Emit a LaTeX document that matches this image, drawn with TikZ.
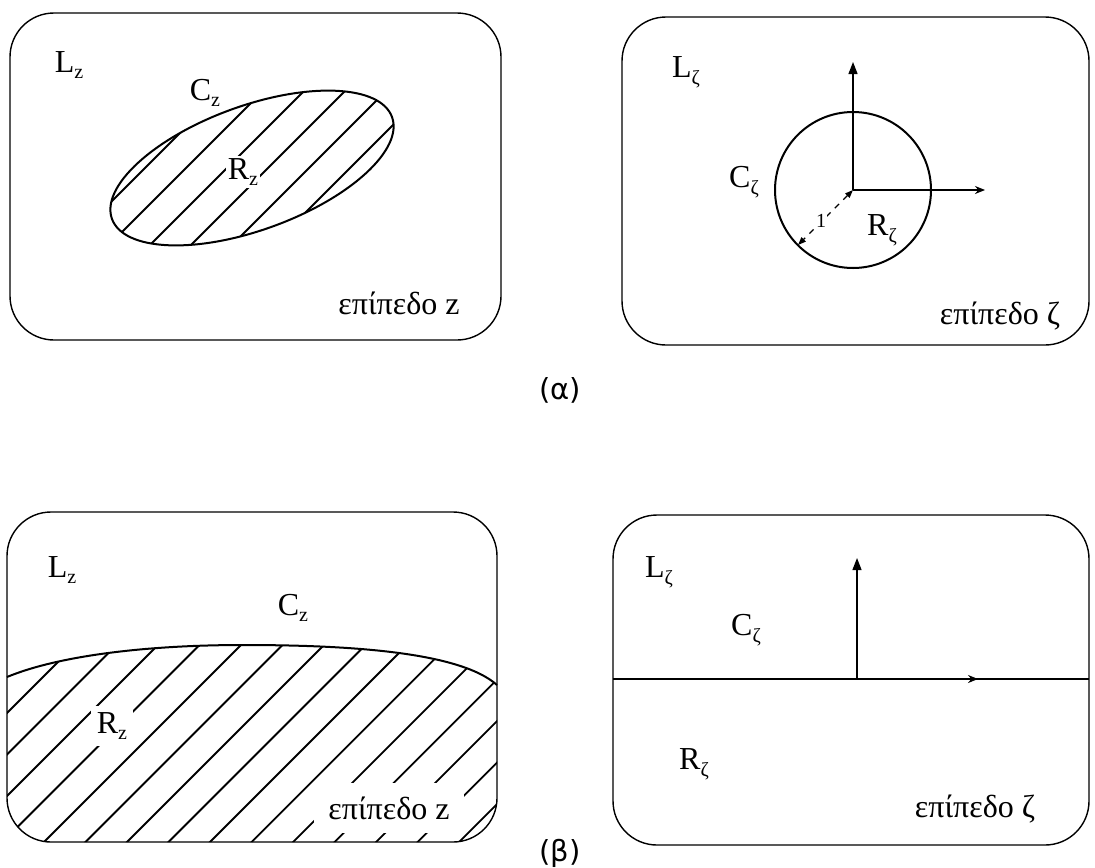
\documentclass[tikz,border=0pt]{standalone}
\usepackage{fontspec}
\setmainfont{Liberation Serif}
\newfontfamily\capfont{DejaVu Sans}
\usetikzlibrary{arrows.meta}
\newcommand{\lsub}[1]{\raisebox{-0.45ex}{\fontsize{10}{10}\selectfont #1}}
\begin{document}
\begin{tikzpicture}[
        x=0.5pt, y=-0.5pt,
        plane/.style={draw, line width=0.7pt, rounded corners=22pt},
        curve/.style={draw, line width=1pt},
        hatch/.style={line width=0.9pt},
        lbl/.style={font=\fontsize{16}{18}\selectfont, inner sep=1pt},
        blank/.style={lbl, fill=white},
        axis/.style={line width=0.6pt, -{Triangle[length=6pt,width=4.5pt]}},
        flowtip/.style={line width=0.9pt, -{Stealth[length=5pt,width=4pt]}},
        unitr/.style={dashed, line width=0.6pt, {Triangle[length=4pt,width=3pt]}-{Triangle[length=4pt,width=3pt]}},
        caption/.style={font=\capfont\fontsize{14.5}{16}\selectfont},
    ]
    \useasboundingbox (0,0) rectangle (1095,867);

    % (a) z plane
    \draw[plane] (10,13) rectangle (501,340);
    \begin{scope}
        \clip[rotate around={20:(252,168)}] (252,168) ellipse [x radius=149, y radius=62];
        \foreach \c in {313,354,...,520}
            \draw[hatch] (\c-300,300) -- (\c,0);
    \end{scope}
    \draw[curve, rotate around={20:(252,168)}] (252,168) ellipse [x radius=149, y radius=62];
    \node[lbl] (Lz1) at (69,65) {L\lsub{z}};
    \node[lbl] (Cz1) at (205,93) {C\lsub{z}};
    \node[blank] (Rz1) at (243,172) {R\lsub{z}};
    \node[lbl] (pz1) at (399,303) {επίπεδο z};

    % (a) zeta plane
    \draw[plane] (622,17) rectangle (1089,345);
    \coordinate (o1) at (853,190);
    \coordinate (up1) at (853,62);
    \coordinate (rt1) at (985,190);
    \coordinate (r1) at (798,245);
    \draw[curve] (o1) circle [radius=78];
    \draw[axis] (o1) -- (up1);
    \draw[flowtip] (o1) -- (rt1);
    \draw[unitr] (o1) -- (r1);
    \node[font=\fontsize{10}{11}\selectfont, fill=white, inner sep=0.5pt] (one) at (821,221) {1};
    \node[lbl] (Lt1) at (686,72) {L\lsub{ζ}};
    \node[lbl] (Ct1) at (744,182) {C\lsub{ζ}};
    \node[lbl] (Rt1) at (882,230) {R\lsub{ζ}};
    \node[lbl] (pt1) at (1000,316) {επίπεδο ζ};

    \node[caption] (capa) at (560,390) {(α)};

    % (b) z plane
    \draw[plane] (7,512) rectangle (497,842);
    \begin{scope}
        \clip[rounded corners=22pt] (7,512) rectangle (497,842);
        \clip (7,677) .. controls (60,655) and (150,645) .. (243,645)
            .. controls (350,645) and (460,652) .. (497,685) -- (497,850) -- (7,850) -- cycle;
        \foreach \c in {720,761.5,...,1330}
            \draw[hatch] (\c-850,850) -- (\c-630,630);
    \end{scope}
    \draw[curve] (7,677) .. controls (60,655) and (150,645) .. (243,645)
        .. controls (350,645) and (460,652) .. (497,685);
    \node[lbl] (Lz2) at (62,570) {L\lsub{z}};
    \node[lbl] (Cz2) at (293,608) {C\lsub{z}};
    \node[blank, inner sep=3pt] (Rz2) at (112,726) {R\lsub{z}};
    \node[blank, inner sep=7pt] (pz2) at (389,808) {επίπεδο z};

    % (b) zeta plane
    \draw[plane] (613,515) rectangle (1089,845);
    \coordinate (hl) at (613,679);
    \coordinate (hr) at (1089,679);
    \coordinate (o2) at (857,679);
    \coordinate (up2) at (857,558);
    \coordinate (rt2) at (978,679);
    \draw[curve] (hl) -- (hr);
    \draw[axis] (o2) -- (up2);
    \draw[flowtip] (o2) -- (rt2);
    \node[lbl] (Lt2) at (659,572) {L\lsub{ζ}};
    \node[lbl] (Ct2) at (746,630) {C\lsub{ζ}};
    \node[lbl] (Rt2) at (694,764) {R\lsub{ζ}};
    \node[lbl] (pt2) at (975,809) {επίπεδο ζ};

    \node[caption] (capb) at (560,853) {(β)};
\end{tikzpicture}
\end{document}
